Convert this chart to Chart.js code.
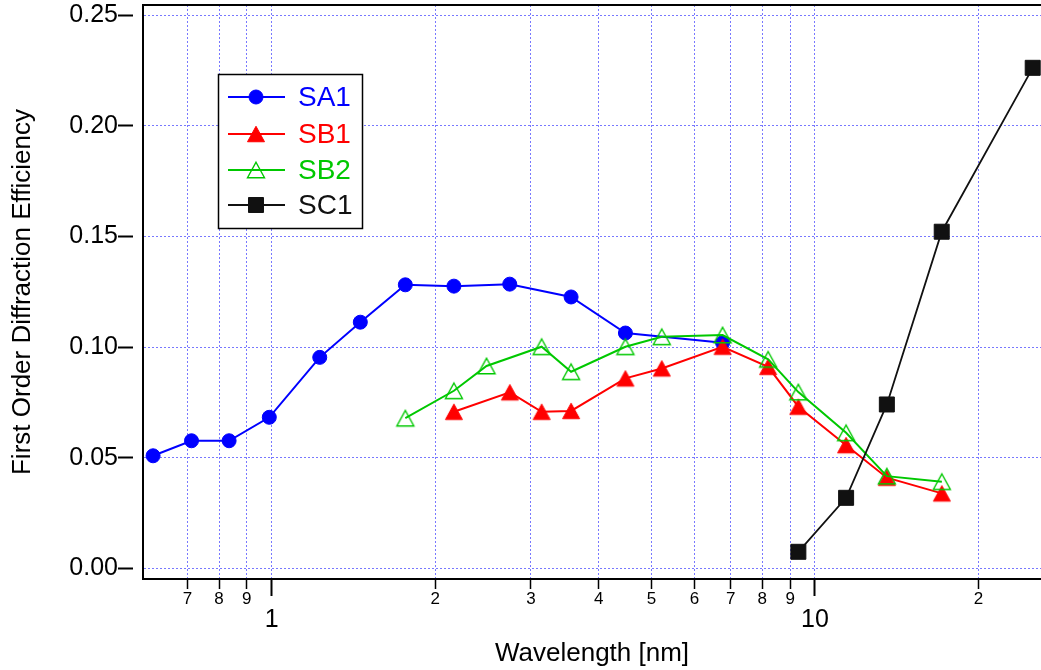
<!DOCTYPE html>
<html>
<head>
<meta charset="utf-8">
<script src="https://cdn.jsdelivr.net/npm/chart.js@4/dist/chart.umd.min.js"></script>
<style>
html,body{margin:0;padding:0;background:#ffffff;overflow:hidden}
canvas{display:block}
</style>
</head>
<body>
<canvas id="c" width="1041" height="670"></canvas>
<script>
// ---------------- data ----------------
const seriesNames = ['SA1', 'SB1', 'SB2', 'SC1'];

const sa1Wavelength = [0.605, 0.712, 0.835, 0.990, 1.226, 1.456, 1.762, 2.165, 2.743, 3.557, 4.478, 6.76];
const sa1Efficiency = [0.0509, 0.0577, 0.0577, 0.0683, 0.0954, 0.1113, 0.1282, 0.1276, 0.1285, 0.1227, 0.1064, 0.1020];

const sb1Wavelength = [2.165, 2.744, 3.14, 3.557, 4.478, 5.224, 6.76, 8.2, 9.32, 11.41, 13.56, 17.12];
const sb1Efficiency = [0.0708, 0.0796, 0.0708, 0.0712, 0.0859, 0.0904, 0.1002, 0.0911, 0.0731, 0.0557, 0.0410, 0.0339];

const sb2Wavelength = [1.762, 2.165, 2.486, 3.14, 3.557, 4.478, 5.224, 6.76, 8.2, 9.32, 11.41, 13.56, 17.12];
const sb2Efficiency = [0.0679, 0.0803, 0.0915, 0.1002, 0.0889, 0.1002, 0.1047, 0.1055, 0.0945, 0.0797, 0.0613, 0.0417, 0.0392];

const sc1Wavelength = [9.32, 11.41, 13.56, 17.11, 25.16];
const sc1Efficiency = [0.0075, 0.0319, 0.0741, 0.1522, 0.2263];

const xTickValues = [0.7, 0.8, 0.9, 1, 2, 3, 4, 5, 6, 7, 8, 9, 10, 20];
const xTickLabels = ['7', '8', '9', '1', '2', '3', '4', '5', '6', '7', '8', '9', '10', '2'];
const xMajorValues = [1, 10];

const yTickValues = [0, 0.05, 0.10, 0.15, 0.20, 0.25];
const yTickLabels = ['0.00', '0.05', '0.10', '0.15', '0.20', '0.25'];

const xAxisTitle = 'Wavelength [nm]';
const yAxisTitle = 'First Order Diffraction Efficiency';

// ---------------- helpers ----------------
const toPoints = (xs, ys) => xs.map((x, i) => ({x: x, y: ys[i]}));
const FONT = "'Liberation Sans', Arial, Helvetica, sans-serif";
Chart.defaults.font.family = FONT;
Chart.defaults.color = '#000';

const GRID_COLOR = '#7878ff';
const isMajorTick = (ctx) => ctx.tick && xMajorValues.indexOf(ctx.tick.value) !== -1;

// triangle marker centred on its bounding box (as in the original plot)
function makeTriangle(fill, stroke, lw) {
  const c = document.createElement('canvas');
  c.width = 22; c.height = 22;
  const g = c.getContext('2d');
  const w = 17, h = 15.5;
  const cx = 11, cy = 11;
  g.beginPath();
  g.moveTo(cx, cy - h / 2);
  g.lineTo(cx + w / 2, cy + h / 2);
  g.lineTo(cx - w / 2, cy + h / 2);
  g.closePath();
  if (fill) { g.fillStyle = fill; g.fill(); }
  g.lineWidth = lw;
  g.strokeStyle = stroke;
  g.stroke();
  return c;
}
const redTriangle = makeTriangle('#ff0000', '#ff0000', 1);
const greenTriangle = makeTriangle(null, '#00c800', 1.4);

const datasets = [
  {
    label: seriesNames[0], data: toPoints(sa1Wavelength, sa1Efficiency),
    borderColor: '#0000ff', backgroundColor: '#0000ff', borderWidth: 2,
    pointStyle: 'circle', pointRadius: 7, pointBorderWidth: 1,
    pointBackgroundColor: '#0000ff', pointBorderColor: '#0000ff', order: 4, clip: false
  },
  {
    label: seriesNames[1], data: toPoints(sb1Wavelength, sb1Efficiency),
    borderColor: '#ff0000', backgroundColor: '#ff0000', borderWidth: 2,
    pointStyle: redTriangle, pointRadius: 9, pointBorderWidth: 1,
    pointBackgroundColor: '#ff0000', pointBorderColor: '#ff0000', order: 3, clip: false
  },
  {
    label: seriesNames[2], data: toPoints(sb2Wavelength, sb2Efficiency),
    borderColor: '#00c800', backgroundColor: 'rgba(0,0,0,0)', borderWidth: 2,
    pointStyle: greenTriangle, pointRadius: 9.5, pointBorderWidth: 1.4,
    pointBackgroundColor: 'rgba(0,0,0,0)', pointBorderColor: '#00c800', order: 2, clip: false
  },
  {
    label: seriesNames[3], data: toPoints(sc1Wavelength, sc1Efficiency),
    borderColor: '#111111', backgroundColor: '#111111', borderWidth: 1.8,
    pointStyle: 'rect', pointRadius: 10.6, pointBorderWidth: 1,
    pointBackgroundColor: '#111111', pointBorderColor: '#111111', order: 1, clip: false
  }
];

// frame line at the top of the plot area
const topFramePlugin = {
  id: 'topFrame',
  afterDraw(chart) {
    const {ctx, chartArea} = chart;
    ctx.save();
    ctx.strokeStyle = '#000';
    ctx.lineWidth = 2;
    ctx.beginPath();
    ctx.moveTo(chartArea.left - 1, chartArea.top);
    ctx.lineTo(chartArea.right + 2, chartArea.top);
    ctx.stroke();
    ctx.restore();
  }
};

// boxed legend inside the plot area
function drawMarker(ctx, style, r, x, y) {
  if (style instanceof HTMLCanvasElement) {
    ctx.drawImage(style, x - style.width / 2, y - style.height / 2);
    return;
  }
  ctx.beginPath();
  if (style === 'circle') {
    ctx.arc(x, y, r, 0, Math.PI * 2);
  } else if (style === 'rect') {
    const s = r * Math.SQRT1_2;
    ctx.rect(x - s, y - s, 2 * s, 2 * s);
  }
  ctx.fill();
  ctx.stroke();
}

const boxLegendPlugin = {
  id: 'boxLegend',
  afterDraw(chart) {
    const ctx = chart.ctx;
    const box = {x: 218.5, y: 74.5, w: 144, h: 154};
    const rowsY = [97, 134, 170, 205];
    ctx.save();
    ctx.fillStyle = '#fff';
    ctx.fillRect(box.x, box.y, box.w, box.h);
    ctx.strokeStyle = '#000';
    ctx.lineWidth = 1.5;
    ctx.strokeRect(box.x, box.y, box.w, box.h);
    chart.data.datasets.forEach((ds, i) => {
      const y = rowsY[i];
      ctx.strokeStyle = ds.borderColor;
      ctx.lineWidth = ds.borderWidth;
      ctx.beginPath();
      ctx.moveTo(228, y);
      ctx.lineTo(285, y);
      ctx.stroke();
      ctx.fillStyle = ds.pointBackgroundColor;
      ctx.strokeStyle = ds.pointBorderColor;
      ctx.lineWidth = ds.pointBorderWidth;
      drawMarker(ctx, ds.pointStyle, ds.pointRadius, 256, y);
      ctx.fillStyle = ds.borderColor;
      ctx.font = '28px ' + FONT;
      ctx.textAlign = 'left';
      ctx.textBaseline = 'middle';
      ctx.fillText(ds.label, 298, y + 1);
    });
    ctx.restore();
  }
};

new Chart(document.getElementById('c'), {
  type: 'line',
  data: {datasets: datasets},
  plugins: [topFramePlugin, boxLegendPlugin],
  options: {
    responsive: false,
    devicePixelRatio: 1,
    animation: false,
    layout: {autoPadding: false, padding: {top: 5, left: 0, right: 0, bottom: 0}},
    plugins: {legend: {display: false}, tooltip: {enabled: false}, title: {display: false}},
    elements: {line: {tension: 0}},
    scales: {
      x: {
        type: 'logarithmic',
        position: 'bottom',
        min: 0.5797,
        max: 26.06,
        afterBuildTicks: (scale) => { scale.ticks = xTickValues.map(v => ({value: v})); },
        afterFit: (scale) => { scale.height = 91; },
        border: {display: true, color: '#000', width: 2, dash: [2, 2]},
        grid: {
          display: true,
          drawOnChartArea: true,
          drawTicks: true,
          color: GRID_COLOR,
          lineWidth: 1,
          tickLength: 17,
          tickColor: '#000',
          tickWidth: (ctx) => isMajorTick(ctx) ? 2 : 1.5,
          tickBorderDash: (ctx) => isMajorTick(ctx) ? [] : [9, 40]
        },
        ticks: {
          autoSkip: false,
          maxRotation: 0,
          minRotation: 0,
          padding: 0,
          color: '#000',
          font: (ctx) => isMajorTick(ctx) ? {size: 25, lineHeight: 1.96, family: FONT} : {size: 17, lineHeight: 0.41, family: FONT},
          callback: (value, index) => xTickLabels[index]
        },
        title: {
          display: true,
          text: xAxisTitle,
          color: '#000',
          font: {size: 26, lineHeight: 1.2, family: FONT},
          padding: {top: 0, bottom: 0.5}
        }
      },
      y: {
        type: 'linear',
        position: 'left',
        min: -0.0048,
        max: 0.2547,
        afterBuildTicks: (scale) => { scale.ticks = yTickValues.map(v => ({value: v})); },
        afterFit: (scale) => { scale.width = 143; },
        border: {display: true, color: '#000', width: 2, dash: [2, 2]},
        grid: {
          display: true,
          drawOnChartArea: true,
          drawTicks: true,
          color: GRID_COLOR,
          lineWidth: 1,
          tickLength: 25,
          tickColor: '#000',
          tickWidth: 2,
          tickBorderDash: [15, 40]
        },
        ticks: {
          padding: 0,
          color: '#000',
          font: {size: 25, lineHeight: 0.4, family: FONT},
          callback: (value, index) => yTickLabels[index]
        },
        title: {
          display: true,
          text: yAxisTitle,
          color: '#000',
          font: {size: 26, lineHeight: 1.2, family: FONT},
          padding: {top: 7.5, bottom: 0}
        }
      }
    }
  }
});
</script>
</body>
</html>
